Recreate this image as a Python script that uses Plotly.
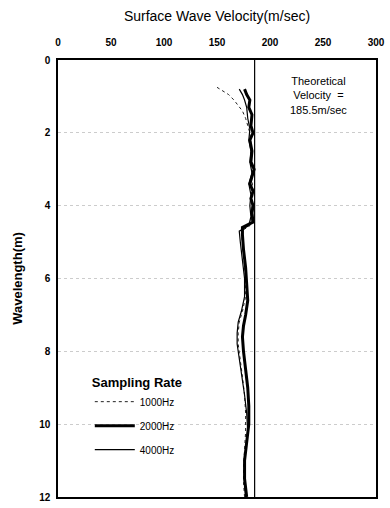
import plotly.graph_objects as go

# Wavelength (m) and surface wave velocity (m/sec) per sampling rate
wl_1000 = [0.75, 0.85, 0.95, 1.1, 1.25, 1.4, 1.6, 1.8, 2.0, 2.3, 2.6, 3.0, 3.3, 3.6, 4.0, 4.3, 4.55, 4.7, 5.0, 5.5, 6.0, 6.5, 6.9, 7.2, 7.5, 7.8, 8.2, 8.7, 9.2, 9.7, 10.2, 10.7, 11.2, 11.6, 12.0]
v_1000 = [150, 156, 161, 166, 170, 174, 177, 179, 181, 182, 182, 183, 183, 184, 183, 183, 181, 173, 174, 176, 177, 177, 174, 171, 170, 170, 172, 174, 176, 177, 177, 176, 175, 175, 176]

wl_2000 = [0.8, 0.95, 1.1, 1.3, 1.5, 1.8, 2.0, 2.2, 2.5, 2.8, 3.0, 3.2, 3.4, 3.6, 3.8, 4.0, 4.2, 4.45, 4.6, 4.8, 5.2, 5.7, 6.2, 6.6, 7.0, 7.3, 7.6, 8.0, 8.5, 9.0, 9.5, 10.0, 10.5, 11.0, 11.5, 12.0]
v_2000 = [176, 178, 181, 180, 183, 182, 184, 181, 183, 182, 185, 183, 181, 184, 182, 184, 183, 184, 174, 174, 175, 177, 178, 179, 177, 175, 174, 175, 177, 179, 180, 180, 178, 176, 176, 178]

wl_4000 = [0.8, 0.95, 1.1, 1.3, 1.6, 1.9, 2.2, 2.5, 2.8, 3.1, 3.4, 3.7, 4.0, 4.3, 4.55, 4.7, 5.0, 5.5, 6.0, 6.5, 6.9, 7.2, 7.5, 7.8, 8.2, 8.7, 9.2, 9.7, 10.2, 10.7, 11.2, 11.6, 12.0]
v_4000 = [171, 174, 176, 178, 179, 181, 180, 182, 181, 183, 180, 182, 181, 182, 180, 171, 172, 174, 176, 176, 173, 170, 169, 169, 171, 174, 176, 178, 179, 177, 176, 176, 177]

theoretical_v = 185.5
depth_range = [0, 12]

x_ticks = [0, 50, 100, 150, 200, 250, 300]
y_ticks = [0, 2, 4, 6, 8, 10, 12]

fig = go.Figure()

fig.add_trace(go.Scatter(x=[theoretical_v, theoretical_v], y=depth_range, mode="lines",
                         line=dict(color="black", width=1.2), showlegend=False, hoverinfo="skip"))
fig.add_trace(go.Scatter(x=v_1000, y=wl_1000, mode="lines", name="1000Hz", legendgroup="a",
                         line=dict(color="#222", width=1, dash="dot")))
fig.add_trace(go.Scatter(x=v_2000, y=wl_2000, mode="lines", name="2000Hz", legendgroup="b",
                         line=dict(color="black", width=3)))
fig.add_trace(go.Scatter(x=v_4000, y=wl_4000, mode="lines", name="4000Hz", legendgroup="c",
                         line=dict(color="black", width=1.2)))

fig.update_layout(
    width=390, height=508,
    margin=dict(l=58, r=12, t=60, b=5),
    plot_bgcolor="white", paper_bgcolor="white",
    font=dict(family="Liberation Sans, Arial, sans-serif", color="black"),
    xaxis=dict(
        side="top", range=[0, 300], tickvals=x_ticks, ticktext=["<b>%d</b>" % v for v in x_ticks],
        showgrid=False, zeroline=False, showline=True, linecolor="black", linewidth=1.5, mirror=True,
        ticks="outside", ticklen=8, tickcolor="white",
        tickfont=dict(size=10),
        title=dict(text="Surface Wave Velocity(m/sec)", font=dict(size=14), standoff=12),
    ),
    yaxis=dict(
        range=[12, 0], tickvals=y_ticks, ticktext=["<b>%d</b>" % v for v in y_ticks],
        showgrid=True, gridcolor="#cccccc", griddash="dot", gridwidth=1,
        zeroline=False, showline=True, linecolor="black", linewidth=1.5, mirror=True,
        ticks="outside", ticklen=4, tickcolor="white",
        tickfont=dict(size=10),
        title=dict(text="<b>Wavelength(m)</b>", font=dict(size=13), standoff=14),
    ),
    legend=dict(
        x=0.1, y=0.29, xanchor="left", yanchor="top",
        bgcolor="rgba(255,255,255,0)", borderwidth=0,
        title=dict(text="<b>Sampling Rate</b>", font=dict(size=13), side="top"),
        font=dict(size=10), tracegroupgap=5, itemwidth=40,
    ),
    showlegend=True,
)

fig.add_annotation(x=0.82, y=0.97, xref="paper", yref="paper", xanchor="center", yanchor="top",
                   text="Theoretical<br>Velocity  =<br>185.5m/sec", showarrow=False,
                   font=dict(size=11), align="center")

fig.write_html("out.html")
